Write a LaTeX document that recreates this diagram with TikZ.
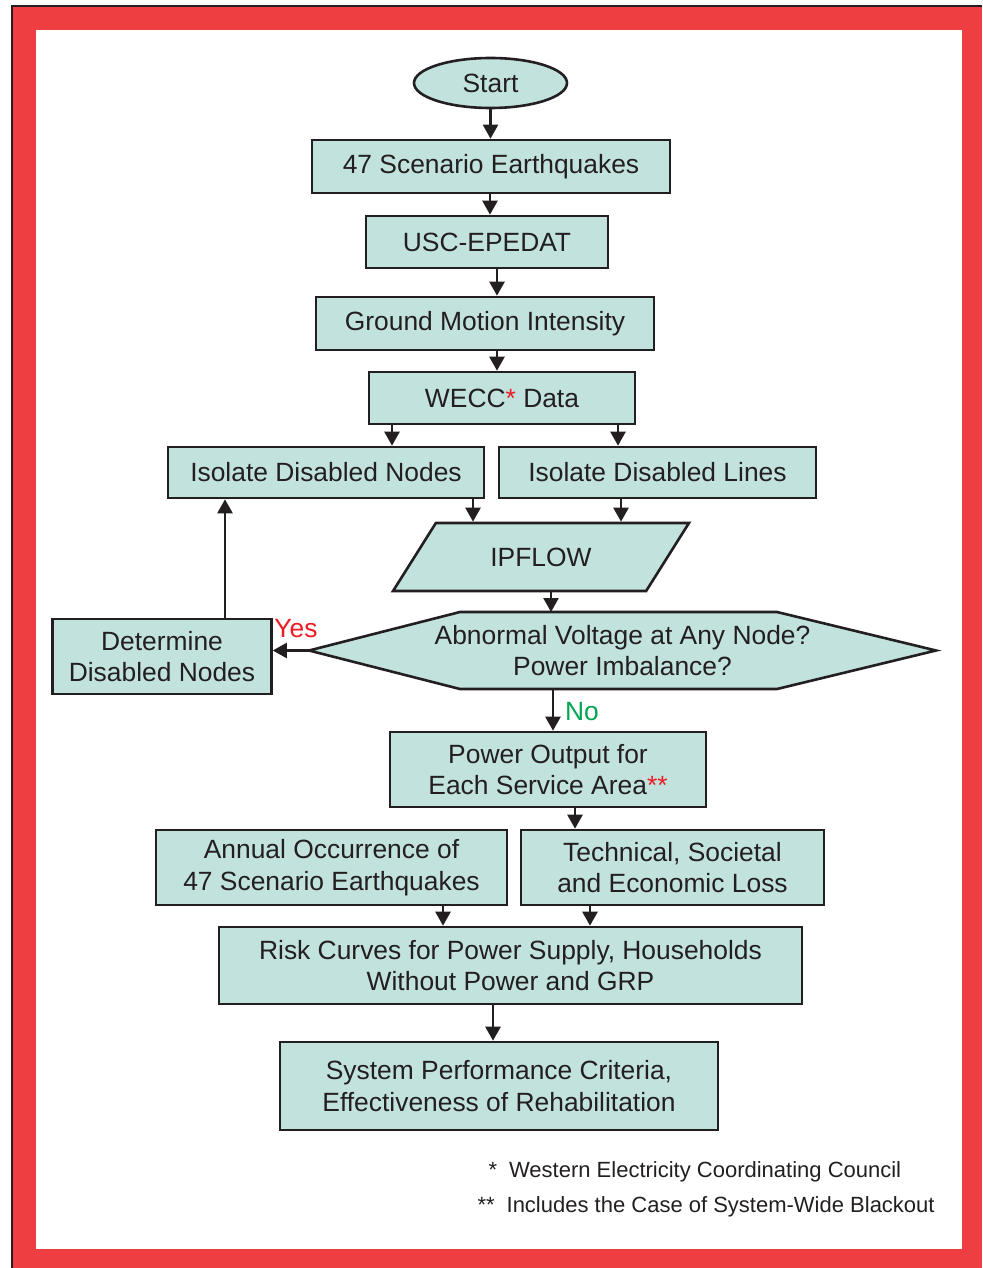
\documentclass[tikz,border=0pt]{standalone}
\usepackage{fontspec}
\setmainfont{Liberation Sans}
\usetikzlibrary{arrows.meta,shapes.geometric}
\definecolor{framered}{RGB}{238,62,66}
\definecolor{boxfill}{RGB}{194,226,222}
\definecolor{ink}{RGB}{35,31,32}
\definecolor{yesred}{RGB}{237,28,36}
\definecolor{nogreen}{RGB}{0,166,81}
\pgfdeclarelayer{framelayer}
\pgfdeclarelayer{bg}
\pgfsetlayers{framelayer,bg,main}
\begin{document}
\begin{tikzpicture}[x=1pt,y=-1pt,
  every node/.style={font=\fontsize{26.4}{31.5}\selectfont, text=ink, align=center},
  box/.style={draw=ink, fill=boxfill, line width=2.6pt, inner sep=0pt},
  arr/.style={draw=ink, line width=2.4pt, -{Triangle[width=15pt,length=14pt]}},
  note/.style={font=\fontsize{22}{26}\selectfont, anchor=west}
]
\useasboundingbox (0,0) rectangle (982,1268);
% frame
\begin{pgfonlayer}{framelayer}
\fill[ink] (11,5) rectangle (982,1268);
\fill[framered] (13,7) rectangle (982,1268);
\fill[white] (36,30) rectangle (962,1249);
\end{pgfonlayer}

% nodes
\node[box, ellipse, minimum width=153pt, minimum height=50pt] (start) at (490.5,83) {Start};
\node[box, minimum width=358pt, minimum height=53pt] (s47) at (491,166.5) {47 Scenario Earthquakes};
\node[box, minimum width=242pt, minimum height=52pt] (usc) at (487,242) {USC-EPEDAT};
\node[box, minimum width=338pt, minimum height=53pt] (gmi) at (485,323.5) {Ground Motion Intensity};
\node[box, minimum width=266pt, minimum height=52pt] (wecc) at (502,398) {WECC{\color{yesred}*} Data};
\node[box, minimum width=316pt, minimum height=51pt] (isn) at (326,472.5) {Isolate Disabled Nodes};
\node[box, minimum width=317pt, minimum height=51pt] (isl) at (657.5,472.5) {Isolate Disabled Lines};
\node[box, trapezium, trapezium left angle=42.2, trapezium right angle=137.8,
      trapezium stretches=true, minimum width=296pt, minimum height=68pt] (ipflow) at (541,557) {IPFLOW};
\node[inner sep=0pt, outer sep=0pt, minimum width=627pt, minimum height=77pt] (dec) at (622.5,650.5)
  {Abnormal Voltage at Any Node?\\Power Imbalance?};
\begin{pgfonlayer}{bg}
\draw[box] (dec.west) -- ([xshift=151pt]dec.north west) -- ([xshift=-159pt]dec.north east)
  -- (dec.east) -- ([xshift=-159pt]dec.south east) -- ([xshift=151pt]dec.south west) -- cycle;
\end{pgfonlayer}
\node[box, minimum width=219pt, minimum height=75pt] (det) at (162,656.5) {Determine\\Disabled Nodes};
\node[text=yesred] (yes) at (296,629) {Yes};
\node[box, minimum width=316pt, minimum height=75pt] (power) at (548,769.5) {Power Output for\\Each Service Area{\color{yesred}**}};
\node[text=nogreen] (no) at (582,712) {No};
\node[box, minimum width=351pt, minimum height=75pt] (annual) at (331.5,867.5) {Annual Occurrence of\\47 Scenario Earthquakes};
\node[box, minimum width=303pt, minimum height=75pt] (tech) at (672.5,867.5) {Technical, Societal\\and Economic Loss};
\node[box, minimum width=583pt, minimum height=77pt] (risk) at (510.5,965.5) {Risk Curves for Power Supply, Households\\Without Power and GRP};
\node[box, minimum width=438pt, minimum height=88pt] (sys) at (499,1086) {System Performance Criteria,\\Effectiveness of Rehabilitation};
\node[note] (fn1) at (485,1172) {*\hspace{12pt}Western Electricity Coordinating Council};
\node[note] (fn2) at (474,1207) {**\hspace{12pt}Includes the Case of System-Wide Blackout};

% connectors
\draw[arr] (start.south) -- (start.south |- s47.north);
\draw[arr] ([xshift=-1pt]s47.south) -- ([xshift=-1pt]s47.south |- usc.north);
\draw[arr] ([xshift=10pt]usc.south) -- ([xshift=10pt]usc.south |- gmi.north);
\draw[arr] ([xshift=12pt]gmi.south) -- ([xshift=12pt]gmi.south |- wecc.north);
\draw[arr] ([xshift=-110pt]wecc.south) -- ([xshift=-110pt]wecc.south |- isn.north);
\draw[arr] ([xshift=116pt]wecc.south) -- ([xshift=116pt]wecc.south |- isl.north);
\draw[arr] ([xshift=147pt]isn.south) -- ([xshift=147pt]isn.south |- ipflow.north);
\draw[arr] ([xshift=-36.5pt]isl.south) -- ([xshift=-36.5pt]isl.south |- ipflow.north);
\draw[arr] ([xshift=10pt]ipflow.south) -- ([xshift=10pt]ipflow.south |- dec.north);
\draw[arr] (dec.west) -- (dec.west -| det.east);
\draw[arr] ([xshift=63pt]det.north) -- ([xshift=63pt]det.north |- isn.south);
\draw[arr] ([xshift=-69.5pt]dec.south) -- ([xshift=-69.5pt]dec.south |- power.north);
\draw[arr] ([xshift=27pt]power.south) -- ([xshift=27pt]power.south |- tech.north);
\draw[arr] ([xshift=111.5pt]annual.south) -- ([xshift=111.5pt]annual.south |- risk.north);
\draw[arr] ([xshift=-82.5pt]tech.south) -- ([xshift=-82.5pt]tech.south |- risk.north);
\draw[arr] ([xshift=-17.5pt]risk.south) -- ([xshift=-17.5pt]risk.south |- sys.north);
\end{tikzpicture}
\end{document}
